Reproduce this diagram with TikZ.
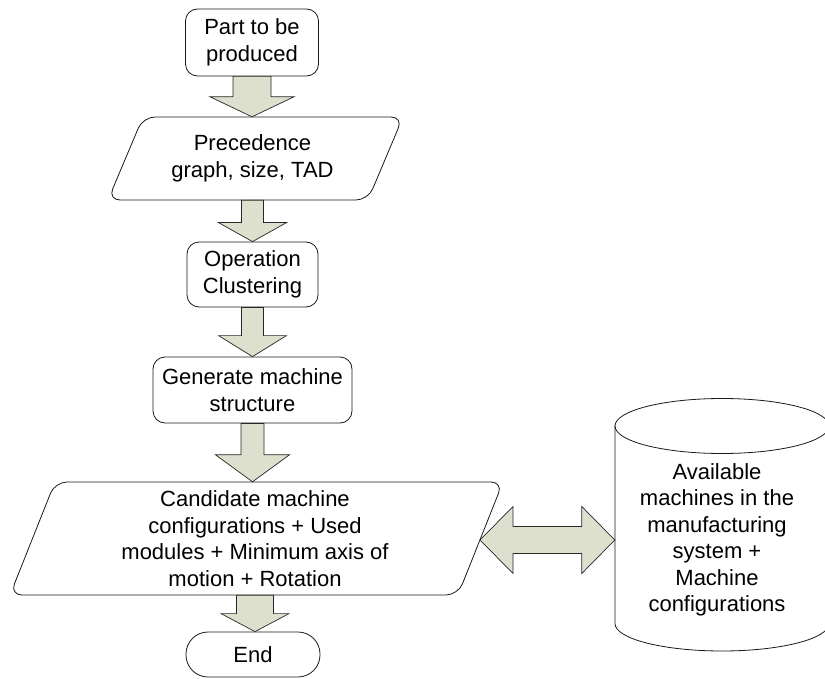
\documentclass[tikz,border=0pt]{standalone}
\usepackage{fontspec}
\setmainfont{Liberation Sans}
\usetikzlibrary{calc}
\definecolor{arrowfill}{RGB}{220,224,205}
\tikzset{
  outline/.style={draw=black!90, line width=0.8pt},
  procbox/.style={outline, rounded corners=12pt, align=center, inner sep=0pt},
  endbox/.style={outline, rounded corners=22pt, align=center, inner sep=0pt},
  textonly/.style={align=center, inner sep=0pt},
  blockarrow/.style={draw=black!85, fill=arrowfill, line width=0.7pt, line join=miter},
}
% downward block arrow: #1 start node anchor, #2 target anchor,
% #3 shaft half width, #4 head half width, #5 head length
\newcommand\blockdown[5]{%
  \draw[blockarrow] let \p1=(#1), \p2=(#2) in
    (\x1-#3,\y1) -- (\x1+#3,\y1) -- (\x1+#3,\y2+#5) -- (\x1+#4,\y2+#5)
    -- (\x1,\y2) -- (\x1-#4,\y2+#5) -- (\x1-#3,\y2+#5) -- cycle;}
\begin{document}
\begin{tikzpicture}[x=1pt,y=-1pt, font=\fontsize{22}{26.5}\selectfont]
\useasboundingbox (0,0) rectangle (825,679);
\clip (0,0) rectangle (825,679);

% process steps
\node[procbox, minimum width=133pt, minimum height=67pt] (part) at (252,42.5) {Part to be\\produced};

\node[textonly, minimum height=83pt] (prec) at (252.5,158.5) {Precedence\\graph, size, TAD};
\draw[outline, rounded corners=12pt] (238,200) -- (108,200) -- (143,117) -- (403,117) -- (368,200) -- cycle;

\node[procbox, minimum width=131pt, minimum height=65pt] (clus) at (252.5,274.5) {Operation\\Clustering};

\node[procbox, minimum width=199pt, minimum height=66pt] (gen) at (252.5,390) {Generate machine\\structure};

\node[textonly, minimum height=113pt] (cand) at (255,538.5) {Candidate machine\\configurations + Used\\modules + Minimum axis of\\motion + Rotation};
\draw[outline, rounded corners=12pt] (230,595) -- (10,595) -- (55,482) -- (503,482) -- (458,595) -- cycle;
\coordinate (candR) at (480,540);

\node[endbox, minimum width=134pt, minimum height=45pt] (end) at (253,654.5) {End};

% machine database
\node[textonly, minimum width=204pt, minimum height=200pt] (db) at (717,540) {Available\\machines in the\\manufacturing\\system +\\Machine\\configurations};
\draw[outline] (615,426) -- (615,623.5) arc[start angle=180, end angle=360, x radius=107pt, y radius=27.5pt] -- (829,426);
\draw[outline] (722,426) ellipse[x radius=107pt, y radius=27.5pt];

% flow arrows
\blockdown{part.south}{prec.north}{19pt}{42pt}{20pt}
\blockdown{prec.south}{clus.north}{11pt}{34pt}{19pt}
\blockdown{clus.south}{gen.north}{11pt}{34pt}{21pt}
\blockdown{gen.south}{cand.north}{11.5pt}{37pt}{27pt}
\blockdown{cand.south}{end.north}{18.5pt}{34pt}{18pt}

% two-way exchange with the database
\draw[blockarrow] let \p1=(candR), \p2=(db.west) in
  (\x1,\y1) -- (\x1+33pt,\y1+33.5pt) -- (\x1+33pt,\y1+13.5pt) -- (\x2-33pt,\y1+13.5pt)
  -- (\x2-33pt,\y1+33.5pt) -- (\x2,\y1) -- (\x2-33pt,\y1-33.5pt) -- (\x2-33pt,\y1-13.5pt)
  -- (\x1+33pt,\y1-13.5pt) -- (\x1+33pt,\y1-33.5pt) -- cycle;
\end{tikzpicture}
\end{document}
